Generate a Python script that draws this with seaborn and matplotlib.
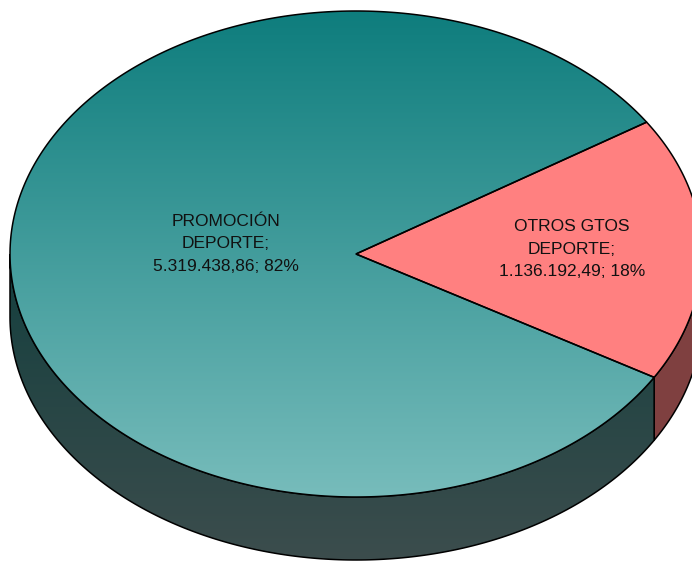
import numpy as np
import seaborn as sns
import matplotlib.pyplot as plt
from matplotlib.patches import Polygon
from matplotlib.colors import LinearSegmentedColormap

sns.set_theme(style="white")
plt.rcParams['font.family'] = ['Liberation Sans', 'DejaVu Sans']

# Data
categories = ["OTROS GTOS\nDEPORTE", "PROMOCIÓN\nDEPORTE"]
values = [1136192.49, 5319438.86]
percent_labels = ["18%", "82%"]

# Geometry of the 3D pie (pixel units)
cx, cy = 356, 254
rx, ry = 346, 243
depth = 63
start_angle = -30.5  # degrees, where the first slice starts (counter-clockwise)

pink_top = "#ff8080"
pink_side = "#7f4040"
teal_top = LinearSegmentedColormap.from_list("teal_top", ["#0e7d7d", "#77bcbb"])
teal_side = LinearSegmentedColormap.from_list("teal_side", ["#143f3e", "#3c4d4d"])


def fmt_es(v):
    s = f"{v:,.2f}"
    return s.replace(",", "X").replace(".", ",").replace("X", ".")


def ell(t):
    t = np.radians(t)
    return cx + rx * np.cos(t), cy - ry * np.sin(t)


fig = plt.figure(figsize=(6.92, 5.68), dpi=100)
ax = fig.add_axes([0, 0, 1, 1])
ax.set_xlim(0, 692)
ax.set_ylim(568, 0)
ax.axis("off")

total = sum(values)
fracs = [v / total for v in values]
bounds = [start_angle]
for f in fracs:
    bounds.append(bounds[-1] + 360 * f)

# Side walls (only the front half is visible: angles 180..360)
for i in range(len(values)):
    a0, a1 = bounds[i], bounds[i + 1]
    segs = []
    for shift in (-360, 0, 360):
        s0, s1 = max(a0 + shift, 180), min(a1 + shift, 360)
        if s1 > s0:
            segs.append((s0, s1))
    for s0, s1 in segs:
        t = np.linspace(s0, s1, 200)
        x, y = ell(t)
        pts = np.column_stack([np.r_[x, x[::-1]], np.r_[y, y[::-1] + depth]])
        if i == 0:
            ax.add_patch(Polygon(pts, closed=True, facecolor=pink_side,
                                 edgecolor="black", lw=1.1, zorder=2))
        else:
            poly = Polygon(pts, closed=True, facecolor="none",
                           edgecolor="black", lw=1.1, zorder=3)
            ax.add_patch(poly)
            im = ax.imshow(np.linspace(0, 1, 256).reshape(-1, 1), cmap=teal_side,
                           extent=(cx - rx, cx + rx, cy, cy + ry + depth),
                           origin="lower", aspect="auto", zorder=2)
            im.set_clip_path(poly)

# Top faces
for i in range(len(values)):
    a0, a1 = bounds[i], bounds[i + 1]
    t = np.linspace(a0, a1, 400)
    x, y = ell(t)
    pts = np.column_stack([np.r_[cx, x], np.r_[cy, y]])
    if i == 0:
        ax.add_patch(Polygon(pts, closed=True, facecolor=pink_top,
                             edgecolor="black", lw=1.1, zorder=5))
    else:
        poly = Polygon(pts, closed=True, facecolor="none",
                       edgecolor="black", lw=1.1, zorder=5)
        ax.add_patch(poly)
        im = ax.imshow(np.linspace(0, 1, 256).reshape(-1, 1), cmap=teal_top,
                       extent=(cx - rx, cx + rx, cy - ry, cy + ry),
                       origin="lower", aspect="auto", zorder=4)
        im.set_clip_path(poly)

# Labels
label_pos = [(572, 249), (226, 244)]
for i in range(len(values)):
    txt = f"{categories[i]};\n{fmt_es(values[i])}; {percent_labels[i]}"
    ax.text(*label_pos[i], txt, ha="center", va="center", fontsize=12.5,
            linespacing=1.62, color="#111111", zorder=6)

ax.set_xlim(0, 692)
ax.set_ylim(568, 0)
fig.savefig("out.png", dpi=100)
